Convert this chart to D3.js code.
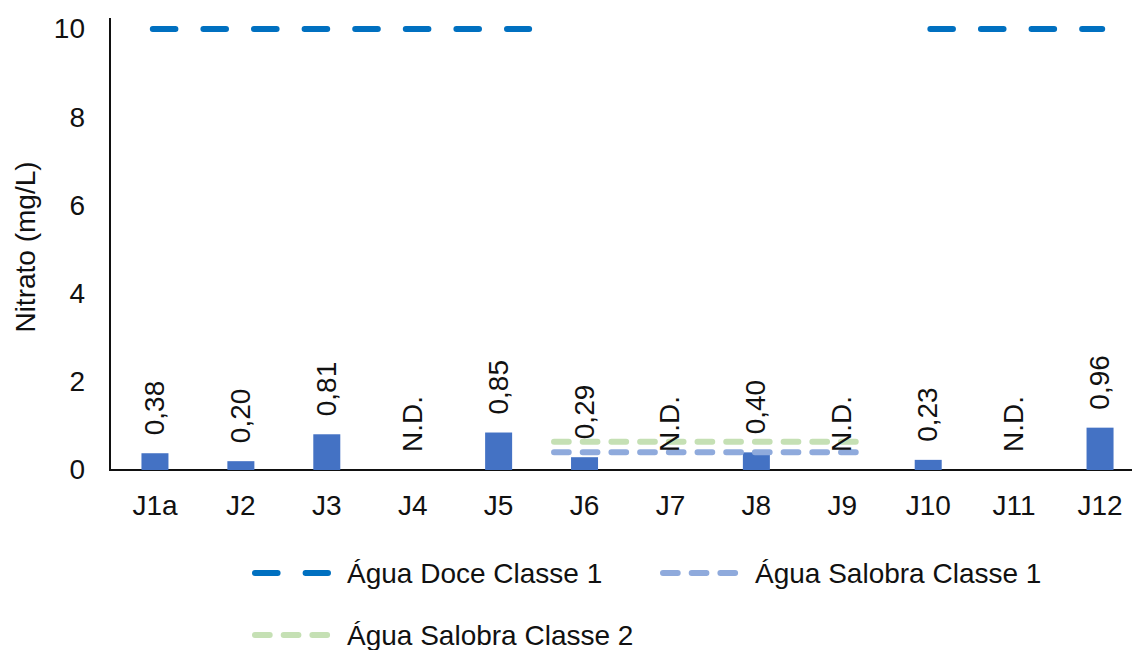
<!DOCTYPE html>
<html>
<head>
<meta charset="utf-8">
<script src="https://cdn.jsdelivr.net/npm/d3@7"></script>
<style>
  body { margin: 0; background: #fff; }
  svg { font-family: "Liberation Sans", Arial, sans-serif; }
</style>
</head>
<body>
<script>
// sampling points and nitrate values (null = not detected)
const categories = ["J1a", "J2", "J3", "J4", "J5", "J6", "J7", "J8", "J9", "J10", "J11", "J12"];
const nitrato = [0.38, 0.20, 0.81, null, 0.85, 0.29, null, 0.40, null, 0.23, null, 0.96];
const yTicks = [0, 2, 4, 6, 8, 10];

// reference limits, with the stretch of categories (index units) they cover
const limitNames = ["Água Doce Classe 1", "Água Salobra Classe 1", "Água Salobra Classe 2"];
const limitValues = [10, 0.40, 0.64];
const limitSpans = [
  [[-0.06, 4.39], [8.99, 11.06]],
  [[4.61, 8.25]],
  [[4.61, 8.25]]
];

const colors = ["#0070C0", "#8FAADC", "#C5E0B4"];
const dashes = ["22.6,28", "14.7,14", "14.7,14"];

const W = 1132, H = 650;
const FS = 28;

const svg = d3.select("body").append("svg")
  .attr("width", W)
  .attr("height", H);

const x = d3.scaleBand()
  .domain(categories)
  .range([112, 1143]);

// continuous position by category index, for the limit lines
const xi = d3.scaleLinear()
  .domain([0, categories.length - 1])
  .range([x(categories[0]) + x.bandwidth() / 2, x(categories[categories.length - 1]) + x.bandwidth() / 2]);

const y = d3.scaleLinear()
  .domain([0, 10])
  .range([470, 29]);

// y axis
const yAxis = svg.append("g")
  .attr("transform", "translate(110,0)")
  .call(d3.axisLeft(y).tickValues(yTicks).tickSize(0).tickPadding(25));
yAxis.select(".domain").remove();
yAxis.selectAll("text")
  .attr("font-size", FS)
  .attr("fill", "#111")
  .style("font-family", "Liberation Sans, Arial, sans-serif");

svg.append("line")
  .attr("x1", 110).attr("x2", 110)
  .attr("y1", 18).attr("y2", 471)
  .attr("stroke", "#111").attr("stroke-width", 2);

// x axis
const xAxis = svg.append("g")
  .attr("transform", "translate(0,470)")
  .call(d3.axisBottom(x).tickSize(0).tickPadding(25));
xAxis.select(".domain").remove();
xAxis.selectAll("text")
  .attr("font-size", FS)
  .attr("fill", "#111")
  .style("font-family", "Liberation Sans, Arial, sans-serif");

svg.append("line")
  .attr("x1", 109).attr("x2", W)
  .attr("y1", 470).attr("y2", 470)
  .attr("stroke", "#111").attr("stroke-width", 2);

svg.append("text")
  .attr("transform", "translate(35,247) rotate(-90)")
  .attr("text-anchor", "middle")
  .attr("font-size", FS)
  .attr("fill", "#111")
  .text("Nitrato (mg/L)");

// bars
const barW = 27;
const rows = categories.map((c, i) => ({ cat: c, v: nitrato[i] }));

svg.selectAll("rect.bar")
  .data(rows.filter(d => d.v !== null))
  .enter()
  .append("rect")
  .attr("class", "bar")
  .attr("x", d => x(d.cat) + x.bandwidth() / 2 - barW / 2)
  .attr("y", d => y(d.v))
  .attr("width", barW)
  .attr("height", d => y(0) - y(d.v))
  .attr("fill", "#4472C4");

// limit lines
limitNames.forEach((name, k) => {
  limitSpans[k].forEach(span => {
    svg.append("line")
      .attr("x1", xi(span[0]) + 3)
      .attr("x2", xi(span[1]) - 3)
      .attr("y1", y(limitValues[k]))
      .attr("y2", y(limitValues[k]))
      .attr("stroke", colors[k])
      .attr("stroke-width", 6)
      .attr("stroke-linecap", "round")
      .attr("stroke-dasharray", dashes[k]);
  });
});

// value labels
svg.selectAll("text.lbl")
  .data(rows)
  .enter()
  .append("text")
  .attr("class", "lbl")
  .attr("transform", d => {
    const cx = x(d.cat) + x.bandwidth() / 2 + 9;
    const cy = y(d.v === null ? 0 : d.v) - 18;
    return "translate(" + cx + "," + cy + ") rotate(-90)";
  })
  .attr("font-size", FS)
  .attr("fill", "#111")
  .text(d => d.v === null ? "N.D." : d.v.toFixed(2).replace(".", ","));

// legend
const legendPos = [[252, 573], [660, 573], [252, 635]];
const legend = svg.selectAll("g.leg")
  .data(limitNames)
  .enter()
  .append("g")
  .attr("class", "leg")
  .attr("transform", (d, i) => "translate(" + legendPos[i][0] + "," + legendPos[i][1] + ")");

legend.append("line")
  .attr("x1", 3).attr("x2", 76)
  .attr("y1", 0).attr("y2", 0)
  .attr("stroke", (d, i) => colors[i])
  .attr("stroke-width", 6)
  .attr("stroke-linecap", "round")
  .attr("stroke-dasharray", (d, i) => dashes[i]);

legend.append("text")
  .attr("x", 95)
  .attr("y", 10)
  .attr("font-size", FS)
  .attr("fill", "#111")
  .text(d => d);
</script>
</body>
</html>
